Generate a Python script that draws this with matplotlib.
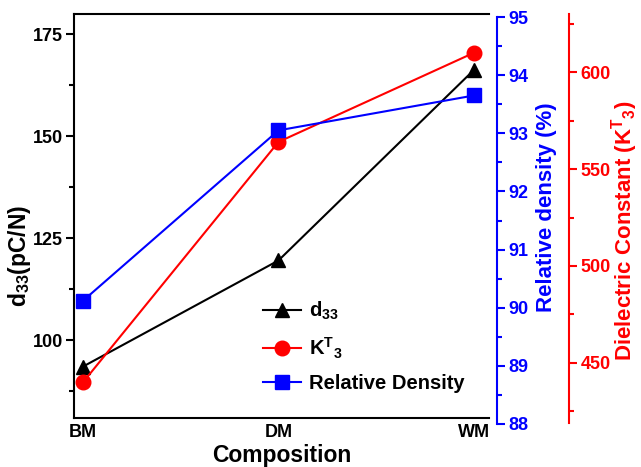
import numpy as np
import matplotlib
matplotlib.use("Agg")
import matplotlib.pyplot as plt
from matplotlib.ticker import MultipleLocator

plt.rcParams["font.family"] = ["Liberation Sans", "DejaVu Sans"]
plt.rcParams["font.weight"] = "bold"
plt.rcParams["axes.labelweight"] = "bold"
plt.rcParams["mathtext.fontset"] = "custom"
plt.rcParams["mathtext.rm"] = "Liberation Sans"
plt.rcParams["mathtext.bf"] = "Liberation Sans:bold"
plt.rcParams["mathtext.it"] = "Liberation Sans:italic"

# ---------------------------------------------------------
# Data
# ---------------------------------------------------------
compositions = ["BM", "DM", "WM"]
d33 = [93.6, 119.6, 166.3]
k33 = [440, 564, 610]
density = [90.12, 93.05, 93.65]

BLUE = "#0000FF"
RED = "#FF0000"

W, H = 641, 467


def box(left, top, right, bottom):
    # pixel box -> figure fraction
    return [left / W, 1 - bottom / H, (right - left) / W, (bottom - top) / H]


fig = plt.figure(figsize=(W / 100, H / 100), dpi=100)

ax = fig.add_axes(box(74, 14, 489, 418))
ax_k = fig.add_axes(box(74, 14, 497, 423))
ax_rd = fig.add_axes(box(74, 17, 497, 424))

x = np.arange(len(compositions))

# ---------------------------------------------------------
# Main axis (d33)
# ---------------------------------------------------------
l1, = ax.plot(x, d33, color="black", lw=1.5, marker="^", ms=10.5, label=r"$\mathregular{d_{33}}$")
ax.set_xlim(-0.046, 2.077)
ax.set_ylim(81, 180)
ax.set_xticks(x, compositions)
ax.yaxis.set_major_locator(MultipleLocator(25))
ax.yaxis.set_minor_locator(MultipleLocator(12.5))
ax.tick_params(axis="x", length=0, pad=4, labelsize=13)
ax.tick_params(axis="y", which="major", length=5.8, width=1.5, pad=2, labelsize=13)
ax.tick_params(axis="y", which="minor", length=3.6, width=1.5)
ax.spines["right"].set_visible(False)
for s in ["left", "top", "bottom"]:
    ax.spines[s].set_linewidth(1.5)
ax.set_xlabel("Composition", fontsize=16.5)
ax.xaxis.set_label_coords(0.5, -0.065)
ax.set_ylabel(r"$\mathbf{d_{33}}$(pC/N)", fontsize=16.5)
ax.yaxis.set_label_coords(-0.098, 0.40)

# ---------------------------------------------------------
# Dielectric constant axis
# ---------------------------------------------------------
l2, = ax_k.plot(x, k33, color=RED, lw=1.5, marker="o", ms=10.5, label=r"$\mathregular{K^{T}}$$\mathregular{_{3}}$")
ax_k.set_xlim(-0.046, 2.118)
ax_k.set_ylim(419, 630)
ax_k.set_facecolor("none")
ax_k.set_xticks([])
for s in ["left", "top", "bottom"]:
    ax_k.spines[s].set_visible(False)
ax_k.spines["right"].set_position(("axes", (569 - 74) / 423))
ax_k.spines["right"].set_color(RED)
ax_k.spines["right"].set_linewidth(1.5)
ax_k.yaxis.tick_right()
ax_k.yaxis.set_label_position("right")
ax_k.yaxis.set_major_locator(MultipleLocator(50))
ax_k.yaxis.set_minor_locator(MultipleLocator(25))
ax_k.tick_params(axis="y", which="major", colors=RED, length=5.5, width=1.5, pad=3, labelsize=13)
ax_k.tick_params(axis="y", which="minor", colors=RED, length=3.5, width=1.5)
ax_k.set_ylabel(r"Dielectric Constant (K$^{\mathbf{T}}$$_{\mathbf{3}}$)", fontsize=16, color=RED)
ax_k.yaxis.set_label_coords((609 - 74) / 423, 0.47)

# ---------------------------------------------------------
# Relative density axis
# ---------------------------------------------------------
l3, = ax_rd.plot(x, density, color=BLUE, lw=1.5, marker="s", ms=9.5, label="Relative Density")
ax_rd.set_xlim(-0.046, 2.118)
ax_rd.set_ylim(88, 95)
ax_rd.set_facecolor("none")
ax_rd.set_xticks([])
for s in ["left", "top", "bottom"]:
    ax_rd.spines[s].set_visible(False)
ax_rd.spines["right"].set_color(BLUE)
ax_rd.spines["right"].set_linewidth(1.5)
ax_rd.yaxis.tick_right()
ax_rd.yaxis.set_label_position("right")
ax_rd.yaxis.set_major_locator(MultipleLocator(1))
ax_rd.yaxis.set_minor_locator(MultipleLocator(0.5))
ax_rd.tick_params(axis="y", which="major", colors=BLUE, length=5.5, width=1.5, pad=3, labelsize=13)
ax_rd.tick_params(axis="y", which="minor", colors=BLUE, length=3.5, width=1.5)
ax_rd.set_ylabel("Relative density (%)", fontsize=16, color=BLUE)
ax_rd.yaxis.set_label_coords((536 - 74) / 423, 0.533)

# ---------------------------------------------------------
# Legend
# ---------------------------------------------------------
fig.legend(
    [l1, l2, l3],
    [l1.get_label(), l2.get_label(), l3.get_label()],
    loc="upper left",
    bbox_to_anchor=(263 / W, 1 - 300 / H),
    frameon=False,
    fontsize=14.5,
    handlelength=1.9,
    handletextpad=0.36,
    borderpad=0,
    borderaxespad=0,
    labelspacing=0.65,
)

fig.savefig("out.png", dpi=100)
plt.close(fig)
